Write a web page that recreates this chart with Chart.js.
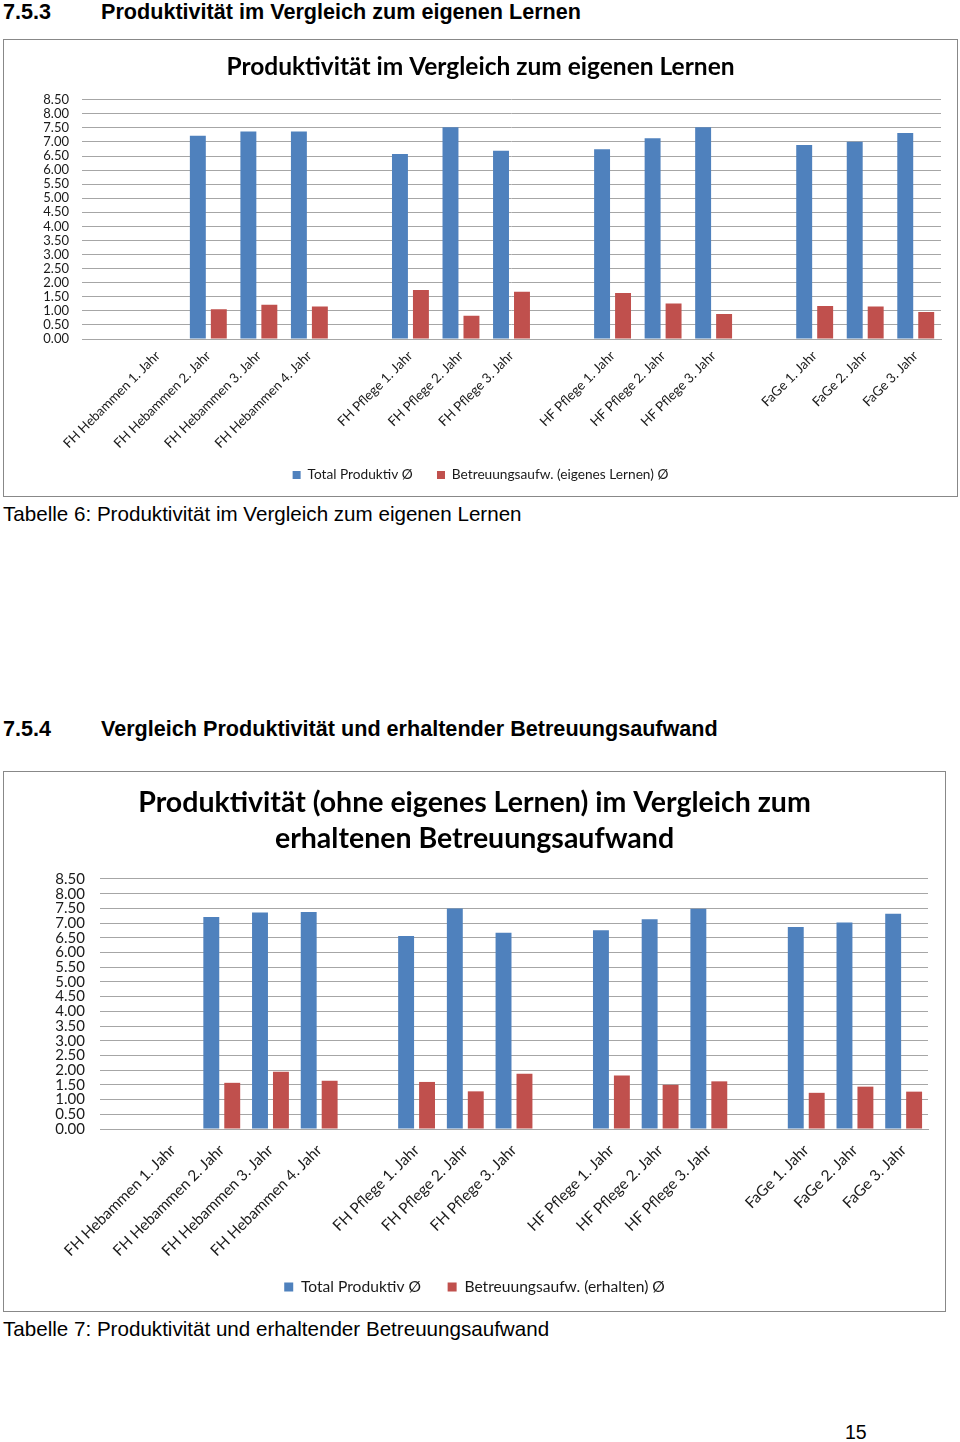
<!DOCTYPE html>
<html><head><meta charset="utf-8">
<script src="https://cdn.jsdelivr.net/npm/chart.js@4.4.1/dist/chart.umd.min.js"></script>
<style>
html,body{margin:0;padding:0;background:#fff;}
body{width:960px;height:1442px;position:relative;overflow:hidden;font-family:"Liberation Sans",Arial,sans-serif;color:#000;}
.t{position:absolute;white-space:nowrap;}
.h{font-weight:bold;font-size:21.6px;line-height:24px;}
.c{font-size:20.6px;line-height:24px;}
.box{position:absolute;border:1px solid #888;box-sizing:border-box;background:#fff;}
.box canvas{position:absolute;left:0;top:0;}
</style></head><body>
<div class="t h" style="left:3px;top:0px">7.5.3</div>
<div class="t h" style="left:101px;top:0px">Produktivität im Vergleich zum eigenen Lernen</div>
<div class="box" style="left:3px;top:39px;width:955px;height:458px"><canvas id="c1" width="953" height="456"></canvas></div>
<div class="t c" style="left:3px;top:502px">Tabelle 6: Produktivität im Vergleich zum eigenen Lernen</div>
<div class="t h" style="left:3px;top:717px">7.5.4</div>
<div class="t h" style="left:101px;top:717px">Vergleich Produktivität und erhaltender Betreuungsaufwand</div>
<div class="box" style="left:3px;top:771px;width:943px;height:541px"><canvas id="c2" width="941" height="539"></canvas></div>
<div class="t c" style="left:3px;top:1317px">Tabelle 7: Produktivität und erhaltender Betreuungsaufwand</div>
<div class="t c" style="left:845px;top:1420px;font-size:19.5px">15</div>
<script>
const categories = ["", "FH Hebammen 1. Jahr", "FH Hebammen 2. Jahr", "FH Hebammen 3. Jahr", "FH Hebammen 4. Jahr", "",
  "FH Pflege 1. Jahr", "FH Pflege 2. Jahr", "FH Pflege 3. Jahr", "",
  "HF Pflege 1. Jahr", "HF Pflege 2. Jahr", "HF Pflege 3. Jahr", "",
  "FaGe 1. Jahr", "FaGe 2. Jahr", "FaGe 3. Jahr"];
const yTicks = [0, 0.5, 1, 1.5, 2, 2.5, 3, 3.5, 4, 4.5, 5, 5.5, 6, 6.5, 7, 7.5, 8, 8.5];

const title1 = "Produktivität im Vergleich zum eigenen Lernen";
const names1 = ["Total Produktiv Ø", "Betreuungsaufw. (eigenes Lernen) Ø"];
const total1 = [null, null, 7.22, 7.37, 7.37, null, 6.57, 7.52, 6.69, null, 6.74, 7.13, 7.52, null, 6.89, 7.01, 7.32];
const own1   = [null, null, 1.06, 1.22, 1.15, null, 1.74, 0.83, 1.68, null, 1.63, 1.26, 0.89, null, 1.17, 1.15, 0.96];

const title2 = ["Produktivität (ohne eigenes Lernen) im Vergleich zum", "erhaltenen Betreuungsaufwand"];
const names2 = ["Total Produktiv Ø", "Betreuungsaufw. (erhalten) Ø"];
const total2    = [null, null, 7.21, 7.36, 7.38, null, 6.56, 7.50, 6.67, null, 6.76, 7.13, 7.49, null, 6.87, 7.02, 7.32];
const received2 = [null, null, 1.57, 1.95, 1.64, null, 1.60, 1.28, 1.88, null, 1.82, 1.50, 1.62, null, 1.23, 1.44, 1.27];

Chart.defaults.font.family = 'Lato, "Open Sans", sans-serif';
Chart.defaults.color = '#1a1a1a';

function makeChart(id, title, names, a, b, c) {
  return new Chart(document.getElementById(id), {
    type: 'bar',
    data: {
      labels: categories,
      datasets: [
        {label: names[0], data: a, backgroundColor: '#4f81bd', categoryPercentage: c.catPct, barPercentage: c.barPct},
        {label: names[1], data: b, backgroundColor: '#c0504d', categoryPercentage: c.catPct, barPercentage: c.barPct}
      ]
    },
    options: {
      responsive: false,
      animation: false,
      layout: {padding: {left: 0, right: 0, top: 0, bottom: c.padBottom}},
      plugins: {
        tooltip: {enabled: false},
        title: {
          display: true, text: title, color: '#000',
          font: {size: c.titleSize, weight: 'bold', lineHeight: c.titleLH},
          padding: {top: c.titleTop, bottom: c.titleBottom}
        },
        legend: {
          position: 'bottom',
          labels: {
            boxWidth: c.box, boxHeight: c.box, padding: c.legPad, color: '#1a1a1a', font: {size: c.legSize},
            generateLabels: chart => {
              const items = Chart.defaults.plugins.legend.labels.generateLabels(chart);
              items.forEach((it, i) => { if (i < items.length - 1) it.text = it.text + '\u2003'; });
              return items;
            }
          }
        }
      },
      scales: {
        x: {
          grid: {display: false, drawTicks: false},
          border: {display: true, color: '#a6a6a6'},
          ticks: {autoSkip: false, minRotation: 45, maxRotation: 45, padding: c.xPad, font: {size: c.xSize}},
          afterFit: s => { s.height = c.xHeight; }
        },
        y: {
          min: 0, max: 8.5,
          grid: {color: '#a6a6a6', drawTicks: false},
          border: {display: false},
          ticks: {autoSkip: false, padding: c.yPad, font: {size: c.tickSize}, callback: v => Number(v).toFixed(2)},
          afterBuildTicks: s => { s.ticks = yTicks.map(v => ({value: v})); },
          afterFit: s => { s.width = c.yWidth; }
        },
        yRight: {
          position: 'right', display: true,
          grid: {display: false, drawTicks: false},
          border: {display: false},
          ticks: {display: false},
          afterFit: s => { s.width = c.padRight; }
        }
      }
    }
  });
}

makeChart('c1', title1, names1, total1, own1, {
  catPct: 0.83, barPct: 0.76, padRight: 16, padBottom: 4.15,
  titleSize: 24.5, titleLH: 1.2, titleTop: 12.3, titleBottom: 18,
  box: 8, legPad: 14, legSize: 13.7, xPad: 9, xSize: 13.3, tickSize: 13, xHeight: 115.15, yPad: 13, yWidth: 78
});
makeChart('c2', title2, names2, total2, received2, {
  catPct: 0.86, barPct: 0.76, padRight: 17, padBottom: 6.2,
  titleSize: 28.5, titleLH: 1.263, titleTop: 13, titleBottom: 22,
  box: 9, legPad: 15, legSize: 15.6, xPad: 12, xSize: 15.3, tickSize: 15, xHeight: 135.2, yPad: 15, yWidth: 96
});
</script>
</body></html>
